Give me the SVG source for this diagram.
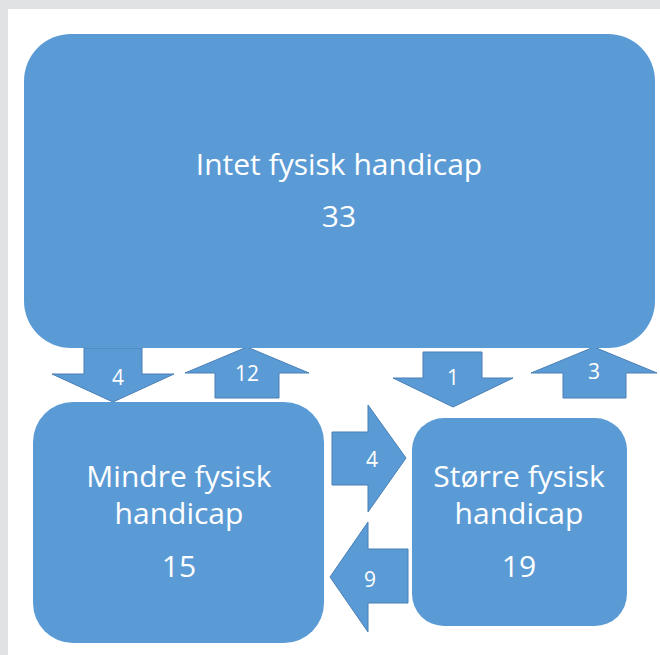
<svg xmlns="http://www.w3.org/2000/svg" width="660" height="655" viewBox="0 0 660 655">
<style>
.box{fill:#5b9bd5;}
.arr{fill:#5b9bd5;stroke:#4a7fb5;stroke-width:1;}
.t{font-family:"Open Sans","Liberation Sans",sans-serif;fill:#ffffff;text-anchor:middle;}
.big{font-size:30px;}
.lbl{font-size:21px;}
</style>
<rect x="0" y="0" width="660" height="655" fill="#ffffff"/>
<rect x="0" y="0" width="660" height="9" fill="#e1e2e4"/>
<rect x="0" y="0" width="8" height="655" fill="#e1e2e4"/>
<g id="connectors">
<g id="a-down-4"><polygon class="arr" points="84,348 142,348 142,374 174,374 113,402 52,374 84,374"/><text class="t lbl" x="118" y="385">4</text></g>
<g id="a-up-12"><polygon class="arr" points="247,347 309,373 279,373 279,398 215,398 215,373 185,373"/><text class="t lbl" x="247" y="381">12</text></g>
<g id="a-down-1"><polygon class="arr" points="423,352 482,352 482,378 513,378 453,407 393,378 423,378"/><text class="t lbl" x="453" y="385">1</text></g>
<g id="a-up-3"><polygon class="arr" points="594,347 657,373 626,373 626,398 563,398 563,373 531,373"/><text class="t lbl" x="594" y="379">3</text></g>
<g id="a-right-4"><polygon class="arr" points="332,432 368,432 368,405 406,458 368,512 368,485 332,485"/><text class="t lbl" x="372" y="467">4</text></g>
<g id="a-left-9"><polygon class="arr" points="408,549 368,549 368,522 330,577 368,632 368,603 408,603"/><text class="t lbl" x="370" y="587">9</text></g>
</g>
<g id="node-intet"><rect class="box" x="24" y="34" width="631" height="314" rx="47" ry="47"/><text class="t big" x="339" y="175">Intet fysisk handicap</text><text class="t big" x="339" y="227">33</text></g>
<g id="node-mindre"><rect class="box" x="33" y="402" width="291" height="241" rx="40" ry="40"/><text class="t big" x="179" y="487">Mindre fysisk</text><text class="t big" x="179" y="524">handicap</text><text class="t big" x="179" y="577">15</text></g>
<g id="node-stoerre"><rect class="box" x="412" y="418" width="215" height="208" rx="32" ry="32"/><text class="t big" x="519" y="487">Større fysisk</text><text class="t big" x="519" y="524">handicap</text><text class="t big" x="519" y="577">19</text></g>
</svg>
